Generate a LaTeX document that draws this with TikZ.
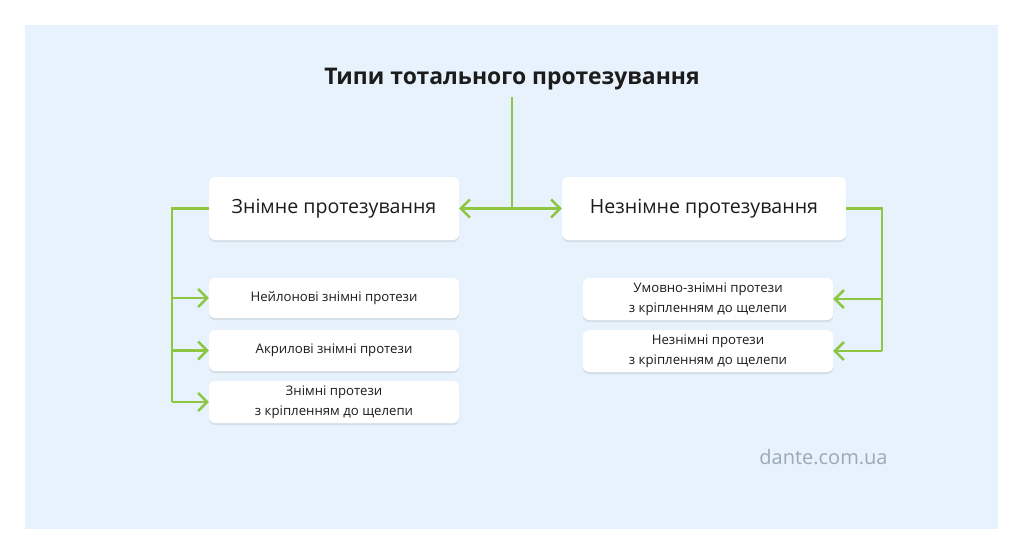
\documentclass[tikz,border=0pt]{standalone}
\usepackage{fontspec}
\setmainfont{Open Sans}
\usetikzlibrary{arrows.meta,shadows}
\definecolor{bgblue}{HTML}{E7F2FD}
\definecolor{lgreen}{HTML}{8DC641}
\definecolor{txt}{HTML}{1C1C1C}
\definecolor{site}{HTML}{9AA9B5}
\tikzset{
  box/.style={draw=none, fill=white, rounded corners=6pt, text=txt, align=center,
    drop shadow={shadow xshift=0pt, shadow yshift=-2pt, opacity=0.18, fill=gray}},
  bigbox/.style={box, minimum height=63pt, font=\fontsize{19.6}{24}\selectfont},
  smallbox/.style={box, minimum width=250pt, font=\fontsize{13.2}{20}\selectfont},
  conn/.style={draw=lgreen, line width=2.5pt},
  arr/.style={conn, -{Straight Barb[length=9pt,width=18pt,line width=2.5pt]}},
  arrboth/.style={conn, {Straight Barb[length=9pt,width=18pt,line width=2.5pt]}-{Straight Barb[length=9pt,width=18pt,line width=2.5pt]}}
}
\begin{document}
\begin{tikzpicture}[x=1pt,y=-1pt]
\useasboundingbox (0,0) rectangle (1024,554);
\fill[white] (0,0) rectangle (1024,554);
\fill[bgblue] (25,25) rectangle (998,529);

\node[font=\bfseries\fontsize{22.9}{26}\selectfont, text=txt] (title) at (512,79) {Типи тотального протезування};

\node[bigbox, minimum width=250pt] (b1) at (334,208.5) {Знімне протезування};
\node[bigbox, minimum width=284pt] (b2) at (704,208.5) {Незнімне протезування};

\node[smallbox, minimum height=40pt] (l1) at (334,298) {Нейлонові знімні протези};
\node[smallbox, minimum height=41pt] (l2) at (334,350.5) {Акрилові знімні протези};
\node[smallbox, minimum height=42pt] (l3) at (334,402) {Знімні протези\\з кріпленням до щелепи};

\node[smallbox, minimum height=42pt] (r1) at (708,299) {Умовно-знімні протези\\з кріпленням до щелепи};
\node[smallbox, minimum height=42pt] (r2) at (708,351) {Незнімні протези\\з кріпленням до щелепи};

\node[font=\fontsize{20}{24}\selectfont, text=site] (site) at (823.5,457) {dante.com.ua};

% top connectors
\coordinate (top) at (512,97);
\coordinate (mid) at (512,208.5);
\draw[arrboth] (b1.east) -- (b2.west);
\draw[conn] (top) -- (mid);

% left bracket
\coordinate (lc) at (172,208.5);
\coordinate (lb) at (172,402);
\draw[conn] (b1.west) -- (lc) -- (lb);
\draw[arr] (172,298) -- (l1.west);
\draw[arr] (172,350.5) -- (l2.west);
\draw[arr] (lb) -- (l3.west);

% right bracket
\coordinate (rc) at (882,208.5);
\coordinate (rb) at (882,351);
\draw[conn] (b2.east) -- (rc) -- (rb);
\draw[arr] (882,299) -- (r1.east);
\draw[arr] (rb) -- (r2.east);
\end{tikzpicture}
\end{document}
